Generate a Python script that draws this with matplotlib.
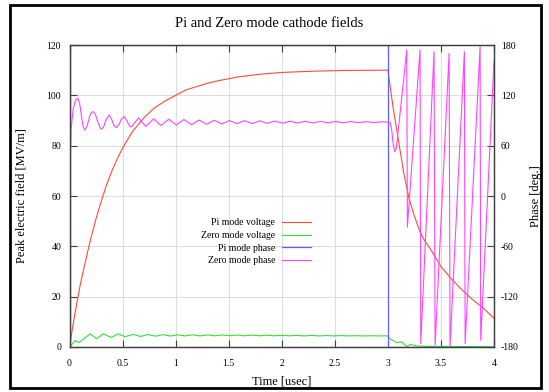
import matplotlib
matplotlib.use("Agg")
import matplotlib.pyplot as plt
from matplotlib.patches import Rectangle

plt.rcParams['font.family'] = ['Liberation Serif', 'DejaVu Serif']
plt.rcParams['axes.unicode_minus'] = False

# Pi mode voltage [MV/m]
pi_v_t = [0, 0.025, 0.05, 0.075, 0.1, 0.15, 0.2, 0.25, 0.3, 0.35, 0.4, 0.45, 0.5,
          0.55, 0.6, 0.65, 0.7, 0.75, 0.8, 0.9, 1.0, 1.1, 1.2, 1.3, 1.4,
          1.6, 1.8, 2.0, 2.3, 2.6, 3.0, 3.02, 3.05, 3.1, 3.13, 3.15, 3.2, 3.25,
          3.3, 3.35, 3.4, 3.5, 3.6, 3.7, 3.8, 3.9, 4.0]
pi_v = [0, 6.7, 13, 18.8, 24.5, 34, 43, 51, 58, 64.5, 70, 74.8, 79,
        82.6, 86, 88.4, 91, 93, 95, 97.7, 100, 102.2, 103.5, 104.8, 105.8,
        107.4, 108.4, 109.1, 109.6, 109.9, 110, 104, 95, 82, 74.3, 69, 59, 52,
        46, 42, 39, 32, 27, 22.6, 18.8, 15.4, 11.4]

# Zero mode voltage [MV/m]
zero_v_t = [0, 0.005, 0.052, 0.093, 0.193, 0.256, 0.319, 0.391, 0.46, 0.523, 0.60,
            0.67, 0.74, 0.81, 0.88, 0.95, 1.02, 1.09, 1.16, 1.23, 1.30, 1.37, 1.44,
            1.51, 1.58, 1.65, 1.72, 1.79, 1.86, 1.93, 2.0, 2.07, 2.14, 2.21, 2.28,
            2.35, 2.42, 2.49, 2.56, 2.63, 2.70, 2.77, 2.84, 2.91, 2.98, 3.0,
            3.027, 3.052, 3.084, 3.131, 3.178, 3.209, 3.272, 3.4, 3.6, 3.8, 4.0]
zero_v = [0, 0.1, 2.5, 1.85, 5.2, 3.3, 5.2, 3.8, 5.2, 4.1, 5.0,
          4.2, 4.95, 4.3, 4.9, 4.35, 4.85, 4.4, 4.85, 4.4, 4.8, 4.45, 4.8,
          4.45, 4.75, 4.45, 4.7, 4.45, 4.7, 4.45, 4.65, 4.45, 4.6, 4.4, 4.6,
          4.4, 4.55, 4.4, 4.55, 4.4, 4.5, 4.38, 4.48, 4.38, 4.45, 4.4,
          3.05, 2.5, 1.7, 2.1, 0.1, 1.05, 0.4, 0.25, 0.2, 0.15, 0.1]

# Pi mode phase [deg]
pi_p_t = [0, 0, 3, 3, 4]
pi_p = [-180, 180, 180, -180, -180]

# Zero mode phase [deg]
zero_p_t = [0, 0.004, 0.015, 0.035, 0.055, 0.077, 0.095, 0.115, 0.13, 0.145, 0.165,
            0.19, 0.205, 0.226, 0.245, 0.27, 0.29, 0.30, 0.32, 0.345, 0.372, 0.395,
            0.42, 0.443, 0.47, 0.49, 0.515, 0.54, 0.565, 0.585, 0.65, 0.72, 0.792,
            0.863, 0.935, 1.006, 1.078, 1.15, 1.221, 1.292, 1.364, 1.435, 1.507,
            1.578, 1.65, 1.721, 1.793, 1.864, 1.936, 2.007, 2.079, 2.15, 2.222,
            2.293, 2.365, 2.436, 2.508, 2.579, 2.651, 2.722, 2.794, 2.865, 2.937,
            3.0, 3.02, 3.035, 3.05, 3.065, 3.08, 3.178, 3.184, 3.303, 3.310, 3.435,
            3.445, 3.577, 3.586, 3.721, 3.728, 3.869, 3.875, 4.0]
zero_p = [-180, 30, 80, 104, 114, 116.5, 111, 93, 82, 78.6, 83,
          95, 99.5, 100.5, 97, 87, 81, 79.5, 82, 91, 96.6, 92,
          84, 81.3, 86, 92, 94.5, 90, 83.5, 82.5, 93, 83, 92,
          84, 91.5, 84.6, 91.2, 85, 90.6, 85.5, 90.2, 85.9, 89.9,
          86.2, 89.7, 86.4, 89.5, 86.6, 89.3, 86.8, 89.1, 87, 89,
          87.1, 88.9, 87.2, 88.8, 87.3, 88.7, 87.4, 88.6, 87.5, 88.5,
          88, 88, 80, 62, 53, 57, 174, -37, 174, -176, 172,
          -178, 170, -179, 172, -176, 178, -172, 160]

x_ticks = [0, 0.5, 1, 1.5, 2, 2.5, 3, 3.5, 4]
y_ticks = [0, 20, 40, 60, 80, 100, 120]
y2_ticks = [-180, -120, -60, 0, 60, 120, 180]

fig = plt.figure(figsize=(5.49, 3.92), dpi=100)
ax = fig.add_axes([0.1266, 0.1148, 0.7732, 0.7704])
ax2 = ax.twinx()

l1, = ax.plot(pi_v_t, pi_v, color='#ff4a3a', lw=0.8, label='Pi mode voltage')
l2, = ax.plot(zero_v_t, zero_v, color='#33e033', lw=0.8, label='Zero mode voltage')
l3, = ax2.plot(pi_p_t, pi_p, color='#6060ff', lw=0.9, label='Pi mode phase')
l4, = ax2.plot(zero_p_t, zero_p, color='#ff44ff', lw=0.8, label='Zero mode phase')

ax.set_xlim(0, 4)
ax.set_ylim(0, 120)
ax2.set_ylim(-180, 180)
ax.set_xticks(x_ticks)
ax.set_xticklabels(['%g' % v for v in x_ticks])
ax.set_yticks(y_ticks)
ax2.set_yticks(y2_ticks)
ax.grid(True, color='#dddddd', lw=0.8)
ax.set_axisbelow(True)

for a in (ax, ax2):
    for s in a.spines.values():
        s.set_color('#404040')
        s.set_linewidth(0.9)
ax.tick_params(direction='in', top=True, length=5, width=0.8, color='#404040',
               labelsize=7, pad=6)
ax.tick_params(axis='x', pad=9)
ax2.tick_params(direction='in', length=5, width=0.8, color='#404040',
                labelsize=7, pad=5)

ax.set_xlabel('Time [usec]', fontsize=9, labelpad=5)
ax.set_ylabel('Peak electric field [MV/m]', fontsize=9, labelpad=14)
ax2.set_ylabel('Phase [deg.]', fontsize=9, rotation=90)
ax2.yaxis.set_label_coords(1.086, 0.5)
fig.text(0.49, 0.94, 'Pi and Zero mode cathode fields', ha='center', va='center',
         fontsize=10.5)

leg = ax2.legend(handles=[l1, l2, l3, l4], loc='center',
                 bbox_to_anchor=(0.44, 0.348), frameon=False, markerfirst=False,
                 fontsize=7, handlelength=3.0, labelspacing=0.38, handletextpad=0.7)
for t in leg.get_texts():
    t.set_ha('right')

fig.patches.append(Rectangle((0.019, 0.01), 0.966, 0.978, transform=fig.transFigure,
                             fill=False, ec='black', lw=2))

fig.savefig('out.png', dpi=100)
